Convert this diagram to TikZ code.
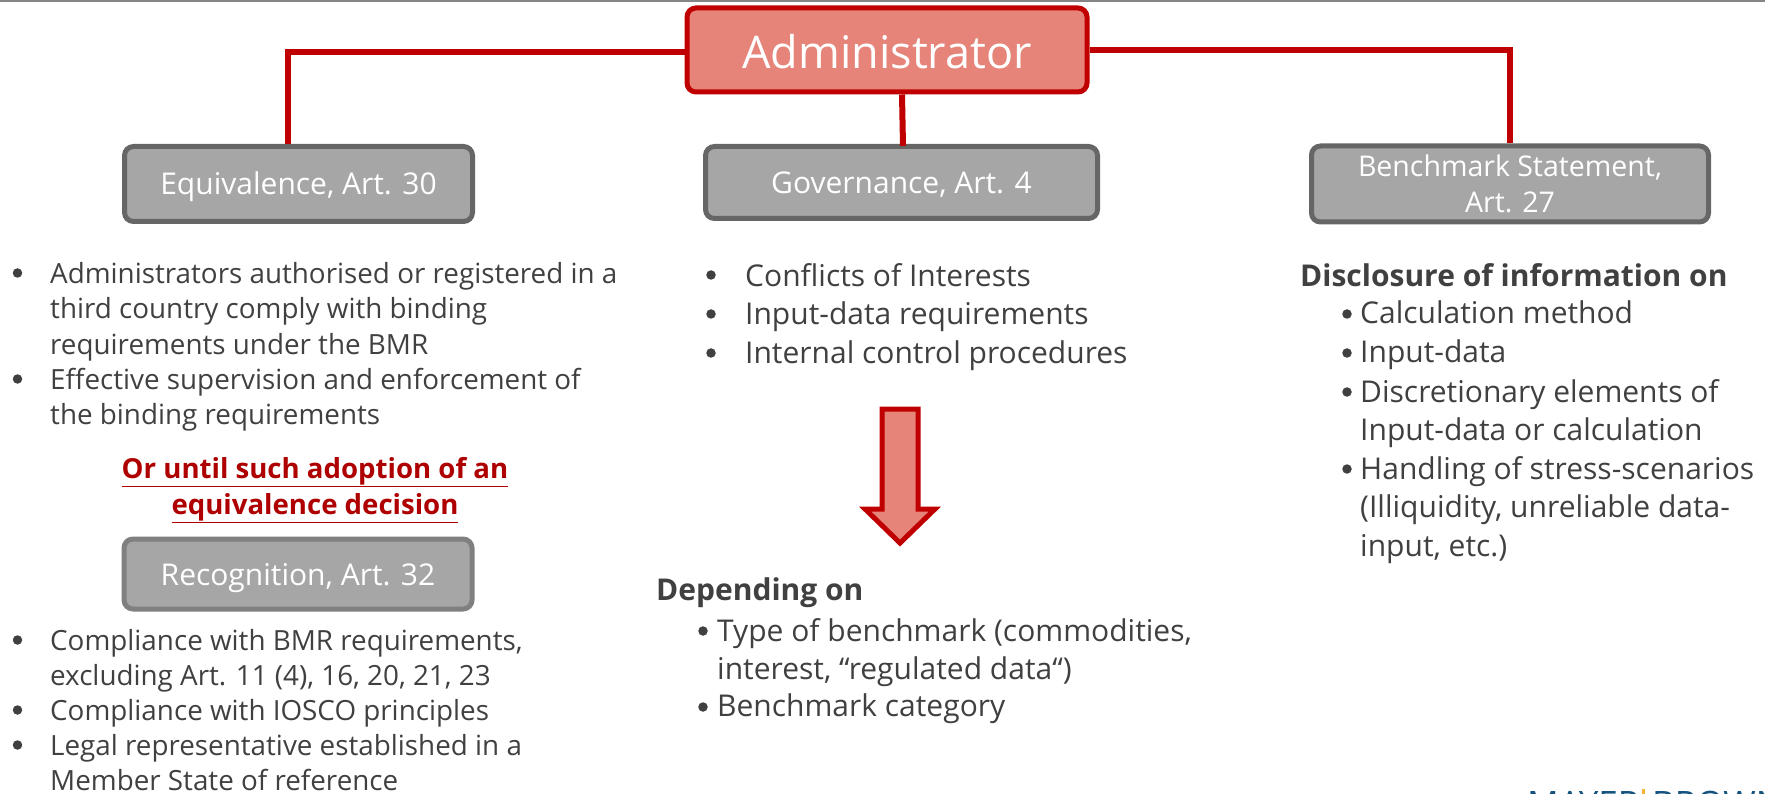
\documentclass[tikz,border=0pt]{standalone}
\usepackage{fontspec}
\setmainfont{Open Sans}
\usetikzlibrary{positioning}
\definecolor{brickred}{HTML}{C00000}
\definecolor{notered}{HTML}{AE0000}
\definecolor{salmonfill}{HTML}{E6847A}
\definecolor{boxgrey}{HTML}{A6A6A6}
\definecolor{edgegrey}{HTML}{666666}
\definecolor{bodytext}{HTML}{404040}
\definecolor{logonavy}{HTML}{14527F}
\definecolor{logoamber}{HTML}{F5B335}
\tikzset{
 headbox/.style={draw=edgegrey, line width=5pt, fill=boxgrey, rounded corners=9pt, text=white, align=center, inner sep=0pt, font=\fontsize{30}{36}\selectfont},
 oneline/.style={text height=24pt, text depth=2pt},
 link/.style={draw=brickred, line width=6pt},
 item/.style={anchor=north west, inner sep=0pt, align=left, text=bodytext, font=\fontsize{27.8}{35.5}\selectfont},
 widerow/.style={item, font=\fontsize{30}{38.5}\selectfont},
 widehead/.style={item, font=\fontsize{30}{38.5}\selectfont\bfseries},
 dot/.style={circle, fill=bodytext, inner sep=0pt, minimum size=9.5pt},
 logotext/.style={anchor=base west, inner sep=0pt, text=logonavy, font=\fontsize{35}{35}\selectfont},
}
\begin{document}
\begin{tikzpicture} [x=1pt, y=-1pt]
\useasboundingbox (0,0) rectangle (1765,794);
\clip (0,0) rectangle (1765,794);
\fill[edgegrey!80] (0,0) rectangle (1765,2);
\node[headbox, draw=brickred, fill=salmonfill, minimum width=400pt, minimum height=84pt, text height=38pt, text depth=0pt, font=\fontsize{45}{50}\selectfont] (admin) at (887,50) {Administrator};
\node[headbox, oneline, minimum width=348pt, minimum height=75pt] (equiv) at (298.5,184) {Equivalence, Art. 30};
\node[headbox, oneline, minimum width=392pt, minimum height=72pt] (gov) at (901.5,182.5) {Governance, Art. 4};
\node[headbox, minimum width=397pt, minimum height=76pt, font=\fontsize{28.5}{36}\selectfont] (bench) at (1510,184) {Benchmark Statement,\\Art. 27};
\node[headbox, oneline, draw=edgegrey!60!boxgrey, minimum width=348pt, minimum height=70pt] (recog) at (298,574) {Recognition, Art. 32};
\coordinate (elbowl) at (288,52);
\coordinate (elbowr) at (1510,50);
\draw[link] (admin.west |- elbowl) -- (elbowl) -- (elbowl |- equiv.north);
\draw[link] (admin.east |- elbowr) -- (elbowr) -- (elbowr |- bench.north);
\draw[link] (admin.south -| 902,0) -- (903,146);
% left column
\foreach \y/\t in {262/{Administrators authorised or registered in a\\third country comply with binding\\requirements under the BMR}, 368/{Effective supervision and enforcement of\\the binding requirements}, 629/{Compliance with BMR requirements,\\excluding Art. 11 (4), 16, 20, 21, 23}, 699/{Compliance with IOSCO principles}, 734/{Legal representative established in a\\Member State of reference}} {
 \node[dot] (d\y) at (17.5,\y+11) {};
 \node[item] (t\y) at (50,\y) {\t};
}
\node[align=center, inner sep=0pt, text=notered, font=\fontsize{27.6}{36}\selectfont\bfseries] (ornote) at (315,490) {\underline{Or until such adoption of an}\\\underline{equivalence decision}};
% middle column
\foreach \y/\t in {263/Conflicts of Interests, 302/Input-data requirements, 341/Internal control procedures} {
 \node[dot] (m\y) at (711,\y+12) {};
 \node[widerow] (n\y) at (745,\y) {\t};
}
\draw[draw=brickred, fill=salmonfill, line width=5pt, miter limit=10] (882,409) -- (918,409) -- (918,509) -- (935,509) -- (900,543) -- (865,509) -- (882,509) -- cycle;
\node[widehead] (dep) at (656,578) {Depending on};
\foreach \y/\t in {618/{Type of benchmark (commodities,\\interest, “regulated data“)}, 694/Benchmark category} {
 \node[dot] (p\y) at (703,\y+13) {};
 \node[widerow] (q\y) at (717,\y) {\t};
}
% right column
\node[widehead] (disc) at (1300,263) {Disclosure of information on};
\foreach \y/\t in {301/Calculation method, 340/Input-data, 379/{Discretionary elements of\\Input-data or calculation}, 456/{Handling of stress-scenarios\\(Illiquidity, unreliable data-\\input, etc.)}} {
 \node[dot] (r\y) at (1347,\y+13) {};
 \node[widerow] (s\y) at (1360,\y) {\t};
}
% logo, cut by the lower edge
\node[logotext] (logoleft) at (1527,816) {MAYER};
\fill[logoamber] (1642,789) rectangle (1645,794);
\node[logotext] (logoright) at (1652,816) {BROWN};
\end{tikzpicture}
\end{document}
